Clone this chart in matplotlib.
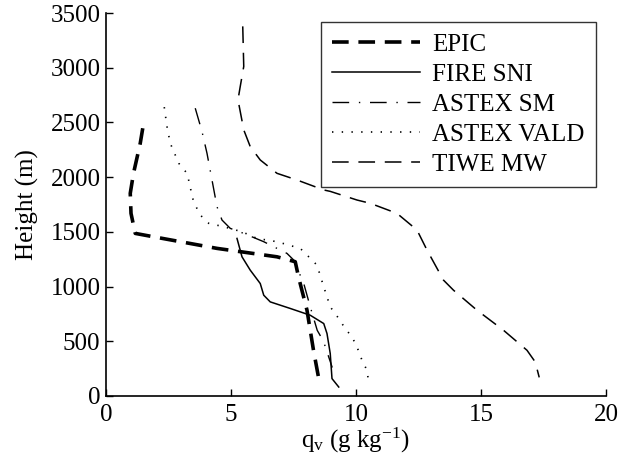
import matplotlib
matplotlib.use("Agg")
import matplotlib.pyplot as plt

plt.rcParams['font.family'] = ['Liberation Serif', 'DejaVu Serif']
plt.rcParams['mathtext.fontset'] = 'custom'
plt.rcParams['mathtext.rm'] = 'Liberation Serif'
plt.rcParams['mathtext.it'] = 'Liberation Serif:italic'
plt.rcParams['lines.scale_dashes'] = False

# EPIC
epic_q = [1.47, 1.37, 1.10, 0.97, 1.00, 1.17, 1.90, 4.44, 6.84, 7.57, 7.70, 8.04, 8.30, 8.55]
epic_z = [2447, 2310, 2035, 1852, 1669, 1486, 1455, 1349, 1272, 1227, 1089, 784, 418, 110]

# FIRE SNI
fire_q = [5.24, 5.44, 5.77, 6.17, 6.31, 6.57, 7.37, 8.17, 8.71, 8.84, 8.97, 9.04, 9.31]
fire_z = [1440, 1272, 1150, 1028, 921, 860, 800, 738, 662, 571, 388, 159, 82]

# ASTEX SM
sm_q = [3.57, 3.84, 4.04, 4.24, 4.44, 4.64, 4.97, 5.51, 6.31, 7.24, 7.51, 7.91, 8.17, 8.45, 8.70, 9.05]
sm_z = [2630, 2417, 2218, 1974, 1730, 1608, 1532, 1486, 1410, 1303, 1242, 1028, 815, 600, 500, 260]

# ASTEX VALD
vald_q = [2.33, 2.44, 2.57, 2.91, 3.24, 3.37, 3.44, 3.57, 3.77, 4.11, 4.71, 5.44, 6.04, 6.84, 7.77,
          8.11, 8.44, 8.71, 8.97, 9.31, 9.57, 9.84, 10.04, 10.24, 10.44, 10.51]
vald_z = [2640, 2462, 2310, 2127, 2035, 1913, 1822, 1745, 1654, 1578, 1547, 1501, 1440, 1410, 1349,
          1272, 1196, 998, 815, 708, 616, 540, 449, 327, 235, 120]

# TIWE MW
tiwe_q = [5.47, 5.51, 5.37, 5.28, 5.51, 5.77, 6.17, 6.84, 7.64, 8.71, 8.97, 10.04, 10.57, 11.64,
          12.44, 12.84, 13.50, 13.90, 14.84, 15.90, 16.84, 17.17, 17.33]
tiwe_z = [3378, 3012, 2829, 2707, 2432, 2279, 2157, 2035, 1974, 1883, 1870, 1791, 1761, 1669,
          1517, 1334, 1059, 967, 784, 601, 418, 311, 170]

x_ticks = [0, 5, 10, 15, 20]
y_ticks = [0, 500, 1000, 1500, 2000, 2500, 3000, 3500]

FS = 18

fig = plt.figure(figsize=(6.21, 4.65), dpi=100)
ax = fig.add_axes([0.1707, 0.1484, 0.8051, 0.8236])

ax.plot(epic_q, epic_z, color='black', lw=2.6, dashes=(12, 7), label='EPIC')
ax.plot(fire_q, fire_z, color='black', lw=1.1, label='FIRE SNI')
ax.plot(sm_q, sm_z, color='black', lw=1.0, dashes=(12, 7, 1, 7), label='ASTEX SM')
ax.plot(vald_q, vald_z, color='black', lw=1.2, dashes=(1, 6), label='ASTEX VALD')
ax.plot(tiwe_q, tiwe_z, color='black', lw=1.1, dashes=(12, 7), label='TIWE MW')

ax.set_xlim(0, 20)
ax.set_ylim(0, 3500)
ax.set_xticks(x_ticks)
ax.set_yticks(y_ticks)
ax.tick_params(direction='in', length=5, width=1, labelsize=FS, colors='black')
ax.tick_params(axis='x', pad=6)
ax.tick_params(axis='y', pad=4)
ax.spines['top'].set_visible(False)
ax.spines['right'].set_visible(False)
for s in ['left', 'bottom']:
    ax.spines[s].set_linewidth(1.2)

ax.set_xlabel(r'q$_\mathrm{v}$ (g kg$^{-1}$)', fontsize=FS, labelpad=0)
ax.set_ylabel('Height (m)', fontsize=FS, labelpad=8)

leg = ax.legend(loc='upper right', bbox_to_anchor=(0.99, 0.99), fontsize=FS, frameon=True,
                fancybox=False, edgecolor='black', handlelength=3.5, handletextpad=0.5,
                labelspacing=0.3, borderpad=0.45, borderaxespad=0.2)
leg.get_frame().set_linewidth(1.0)

fig.savefig('out.png', dpi=100)
